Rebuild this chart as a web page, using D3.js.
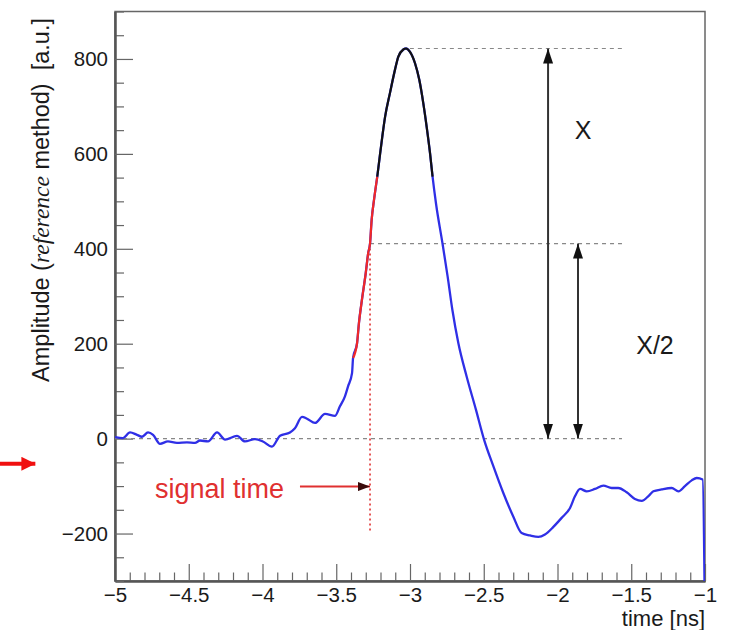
<!DOCTYPE html>
<html>
<head>
<meta charset="utf-8">
<script src="https://cdn.jsdelivr.net/npm/d3@7"></script>
<style>
  body { margin: 0; background: #fff; }
  svg { display: block; }
  text { font-family: "Liberation Sans", Arial, Helvetica, sans-serif; }
</style>
</head>
<body>
<div id="chart"></div>
<script>
// Waveform: time [ns] and amplitude [a.u.]
const times = [
  -5.000, -4.946, -4.898, -4.851, -4.817, -4.776, -4.742, -4.695, -4.641, -4.580,
  -4.512, -4.458, -4.424, -4.369, -4.308, -4.254, -4.173, -4.119, -4.051, -3.997,
  -3.936, -3.881, -3.814, -3.780, -3.732, -3.698, -3.644, -3.576, -3.508, -3.475,
  -3.441, -3.420, -3.393, -3.386, -3.359, -3.346, -3.327, -3.300, -3.283, -3.271,
  -3.260, -3.244, -3.222, -3.208, -3.188, -3.169, -3.136, -3.102, -3.079, -3.045,
  -3.027, -3.000, -2.966, -2.937, -2.910, -2.887, -2.864, -2.847, -2.824, -2.780,
  -2.745, -2.712, -2.672, -2.616, -2.553, -2.498, -2.435, -2.368, -2.300, -2.243,
  -2.186, -2.130, -2.085, -2.028, -1.972, -1.915, -1.881, -1.847, -1.802, -1.746,
  -1.689, -1.633, -1.588, -1.531, -1.475, -1.429, -1.380, -1.350, -1.294, -1.226,
  -1.180, -1.136, -1.090, -1.056, -1.016, -1.000
];
const amplitudes = [
     3,    1,   13,    8,    4,   13,    8,  -11,   -6,   -9,
    -8,   -9,   -4,   -6,   13,   -2,    6,   -6,   -1,   -6,
   -17,    6,   13,   22,   46,   42,   33,   52,   48,   68,
    89,  110,  138,  170,  201,  244,  290,  349,  392,  411,
   461,  503,  552,  587,  636,  678,  728,  777,  805,  820,
   822,  815,  791,  756,  707,  657,  601,  552,  496,  412,
   342,  270,  201,  131,   61,   -2,  -58, -114, -164, -199,
  -204, -207, -202, -186, -167, -146, -121, -106, -111, -106,
   -99, -104, -104, -113, -127, -131, -120, -111, -107, -104,
  -111, -100,  -88,  -83,  -86, -400
];

// Fit ranges drawn over the pulse
const edgeFitRange = [-3.386, -3.222];   // red, rising edge
const peakFitRange = [-3.222, -2.847];   // black, around the maximum

// Reference levels
const peakAmp = 822;
const halfAmp = 411;
const signalTime = -3.271;
const levelEnd = -1.563;
const arrowX = -2.064;
const arrowHalfX = -1.861;

// Axis ticks
const xMajor = [-5, -4.5, -4, -3.5, -3, -2.5, -2, -1.5, -1];
const xTickLabels = ["\u22125", "\u22124.5", "\u22124", "\u22123.5", "\u22123", "\u22122.5", "\u22122", "\u22121.5", "\u22121"];
const yMajor = [-200, 0, 200, 400, 600, 800];
const yTickLabels = ["\u2212200", "0", "200", "400", "600", "800"];

const width = 733;
const height = 630;
const margin = { top: 11.5, right: 28, bottom: 49, left: 115 };

const data = times.map((t, i) => ({ t: t, v: amplitudes[i] }));

const xScale = d3.scaleLinear()
    .domain([-5, -1])
    .range([margin.left, width - margin.right]);

const yScale = d3.scaleLinear()
    .domain([-300, 900])
    .range([height - margin.bottom, margin.top]);

const xMinor = d3.range(-50, -9).map(d => d / 10).filter(d => !xMajor.includes(d));
const yMinor = d3.range(-300, 901, 50).filter(d => !yMajor.includes(d));

const svg = d3.select("#chart")
    .append("svg")
    .attr("width", width)
    .attr("height", height);

const defs = svg.append("defs");
defs.append("clipPath").attr("id", "plot-clip")
    .append("rect")
    .attr("x", margin.left)
    .attr("y", margin.top)
    .attr("width", width - margin.left - margin.right)
    .attr("height", height - margin.top - margin.bottom);

function marker(id, color, w, h) {
    defs.append("marker")
        .attr("id", id)
        .attr("viewBox", `0 0 ${h} ${w}`)
        .attr("refX", h)
        .attr("refY", w / 2)
        .attr("markerWidth", h)
        .attr("markerHeight", w)
        .attr("markerUnits", "userSpaceOnUse")
        .attr("orient", "auto-start-reverse")
        .append("path")
        .attr("d", `M0,0L${h},${w / 2}L0,${w}Z`)
        .attr("fill", color);
}
marker("arrow-black", "#111", 10, 15);
marker("arrow-dark", "#3a0a0a", 9, 12);
marker("arrow-red", "#f01010", 14, 14);

// Frame
svg.append("rect")
    .attr("x", margin.left)
    .attr("y", margin.top)
    .attr("width", width - margin.left - margin.right)
    .attr("height", height - margin.top - margin.bottom)
    .attr("fill", "none")
    .attr("stroke", "#666")
    .attr("stroke-width", 1.5);

// X axis (ticks point inside the frame)
const xAxisG = svg.append("g")
    .attr("class", "x-axis")
    .attr("transform", `translate(0,${height - margin.bottom})`);
xAxisG.call(d3.axisBottom(xScale).tickValues(xMinor).tickSize(-8.5).tickSizeOuter(0).tickFormat(""));
xAxisG.append("g").call(d3.axisBottom(xScale).tickValues(xMajor).tickSize(-17).tickSizeOuter(0)
    .tickPadding(6).tickFormat((d, i) => xTickLabels[i]));

// Y axis
const yAxisG = svg.append("g")
    .attr("class", "y-axis")
    .attr("transform", `translate(${margin.left},0)`);
yAxisG.call(d3.axisLeft(yScale).tickValues(yMinor).tickSize(-9).tickSizeOuter(0).tickFormat(""));
yAxisG.append("g").call(d3.axisLeft(yScale).tickValues(yMajor).tickSize(-18).tickSizeOuter(0)
    .tickPadding(7).tickFormat((d, i) => yTickLabels[i]));

svg.selectAll(".x-axis path, .y-axis path").attr("stroke", "#555").attr("stroke-width", 2);
svg.selectAll(".x-axis line, .y-axis line").attr("stroke", "#666").attr("stroke-width", 1.2);
svg.selectAll(".x-axis text, .y-axis text")
    .attr("fill", "#1a1a1a")
    .style("font-size", "20.5px")
    .style("font-family", "'Liberation Sans', Arial, sans-serif");

// Axis titles
svg.append("text")
    .attr("x", width - margin.right)
    .attr("y", 626)
    .style("text-anchor", "end")
    .style("font-size", "22px")
    .attr("fill", "#1a1a1a")
    .text("time [ns]");

const yTitle = svg.append("text")
    .attr("transform", "translate(49,18) rotate(-90)")
    .style("text-anchor", "end")
    .style("font-size", "23.5px")
    .attr("fill", "#1a1a1a");
yTitle.append("tspan").text("Amplitude (");
yTitle.append("tspan").style("font-family", "'Liberation Serif', 'Times New Roman', serif")
    .style("font-style", "italic").text("reference");
yTitle.append("tspan").text(" method)\u00a0\u00a0[a.u.]");

// Reference levels (dashed)
const levels = [
    { x0: signalTime + 0.27, v: peakAmp },
    { x0: signalTime, v: halfAmp },
    { x0: -5, v: 0 }
];
svg.selectAll(".level")
    .data(levels)
    .enter().append("line")
    .attr("class", "level")
    .attr("x1", d => xScale(d.x0))
    .attr("x2", xScale(levelEnd))
    .attr("y1", d => yScale(d.v))
    .attr("y2", d => yScale(d.v))
    .attr("stroke", "#888")
    .attr("stroke-width", 1.2)
    .attr("stroke-dasharray", "4,4");

// Signal time (dotted red)
svg.append("line")
    .attr("x1", xScale(signalTime))
    .attr("x2", xScale(signalTime))
    .attr("y1", yScale(halfAmp))
    .attr("y2", yScale(-200))
    .attr("stroke", "#e03030")
    .attr("stroke-width", 1.6)
    .attr("stroke-dasharray", "2,3");

// Waveform
const valueline = d3.line()
    .x(d => xScale(d.t))
    .y(d => yScale(d.v))
    .curve(d3.curveMonotoneX);

const plot = svg.append("g").attr("clip-path", "url(#plot-clip)");
plot.append("path")
    .datum(data)
    .attr("d", valueline)
    .attr("fill", "none")
    .attr("stroke", "#2f2fe6")
    .attr("stroke-width", 2.3);

plot.append("path")
    .datum(data.filter(d => d.t >= edgeFitRange[0] && d.t <= edgeFitRange[1]))
    .attr("d", valueline)
    .attr("fill", "none")
    .attr("stroke", "#f02828")
    .attr("stroke-width", 2.2);

plot.append("path")
    .datum(data.filter(d => d.t >= peakFitRange[0] && d.t <= peakFitRange[1]))
    .attr("d", valueline)
    .attr("fill", "none")
    .attr("stroke", "#111")
    .attr("stroke-width", 2.2);

// Double arrows X and X/2
const arrows = [
    { x: arrowX, top: peakAmp },
    { x: arrowHalfX, top: halfAmp }
];
svg.selectAll(".dbl-arrow")
    .data(arrows)
    .enter().append("line")
    .attr("class", "dbl-arrow")
    .attr("x1", d => xScale(d.x))
    .attr("x2", d => xScale(d.x))
    .attr("y1", d => yScale(d.top))
    .attr("y2", yScale(0))
    .attr("stroke", "#333")
    .attr("stroke-width", 2)
    .attr("marker-start", "url(#arrow-black)")
    .attr("marker-end", "url(#arrow-black)");

svg.append("text")
    .attr("x", xScale(-1.827))
    .attr("y", yScale(650))
    .attr("dy", "0.36em")
    .style("text-anchor", "middle")
    .style("font-size", "25px")
    .attr("fill", "#1a1a1a")
    .text("X");

svg.append("text")
    .attr("x", xScale(-1.339))
    .attr("y", yScale(198))
    .attr("dy", "0.36em")
    .style("text-anchor", "middle")
    .style("font-size", "25px")
    .attr("fill", "#1a1a1a")
    .text("X/2");

// Signal time label and arrow
svg.append("text")
    .attr("x", xScale(-4.729))
    .attr("y", yScale(-125))
    .style("font-size", "27px")
    .attr("fill", "#e03030")
    .text("signal time");

svg.append("line")
    .attr("x1", xScale(-3.746))
    .attr("x2", xScale(signalTime))
    .attr("y1", yScale(-101))
    .attr("y2", yScale(-101))
    .attr("stroke", "#e03030")
    .attr("stroke-width", 2)
    .attr("marker-end", "url(#arrow-dark)");

// Red arrow outside the frame on the left
svg.append("line")
    .attr("x1", xScale(-5.78))
    .attr("x2", xScale(-5.54))
    .attr("y1", yScale(-53))
    .attr("y2", yScale(-53))
    .attr("stroke", "#f01010")
    .attr("stroke-width", 4)
    .attr("marker-end", "url(#arrow-red)");
</script>
</body>
</html>
